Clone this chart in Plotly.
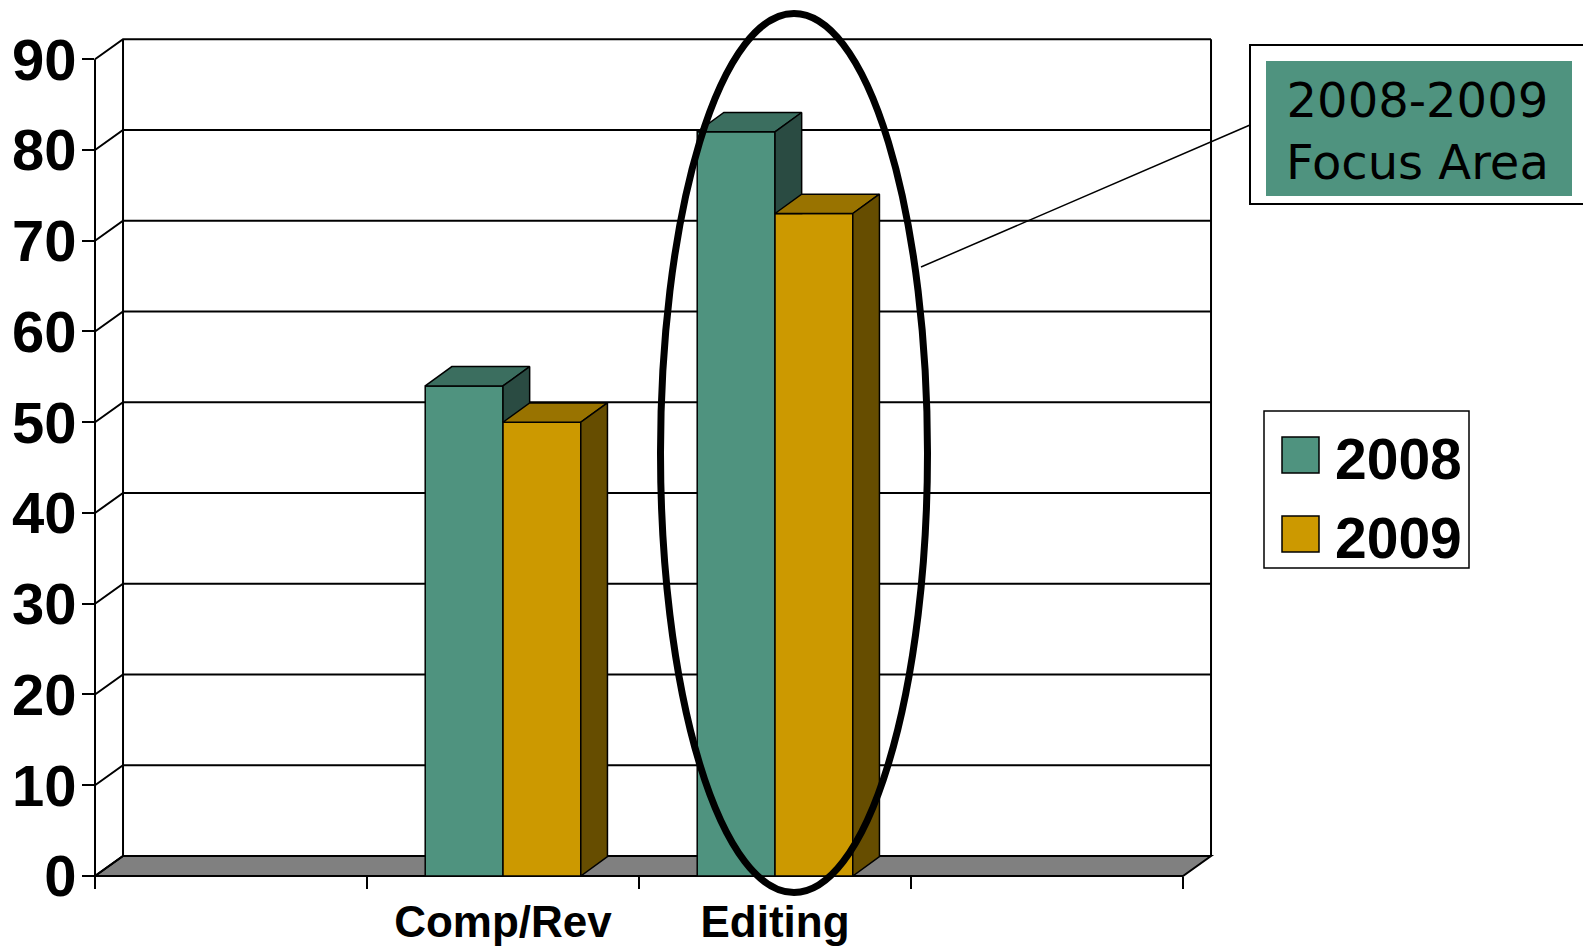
import plotly.graph_objects as go

# ---------------- data ----------------
categories = ["", "Comp/Rev", "Editing", ""]
series_names = ["2008", "2009"]
values_2008 = [None, 54, 82, None]
values_2009 = [None, 50, 73, None]
y_ticks = [0, 10, 20, 30, 40, 50, 60, 70, 80, 90]
callout_lines = ["2008-2009", "Focus Area"]

# ---------------- style ----------------
W, H = 1583, 951
ML, MR, MT, MB = 95, 332, 32, 75
XR = [-0.5, 3.75]
YR = [0, 93]
FLOOR_DX, FLOOR_DY = 0.103, 2.2
BAR_DX, BAR_DY = 0.098, 2.13
BAR_W = 0.286

front_cols = ["#4F937F", "#CC9900"]
top_cols = ["#3B6E5F", "#997300"]
side_cols = ["#2A4B42", "#664D00"]

PW = W - ML - MR
PH = H - MT - MB


def dpx(x):  # data x -> paper
    return (x - XR[0]) / (XR[1] - XR[0])


def dpy(y):  # data y -> paper
    return (y - YR[0]) / (YR[1] - YR[0])


def ppx(p):  # pixel x -> paper
    return (p - ML) / PW


def ppy(p):  # pixel y -> paper
    return (H - MB - p) / PH


def path_from(points, close=True):
    s = "M " + " L ".join(f"{dpx(x):.6f},{dpy(y):.6f}" for x, y in points)
    return s + (" Z" if close else "")


fig = go.Figure()
shapes = []

# floor
x_first = -0.5
x_last = len(categories) - 0.5
floor = [(x_first, 0), (x_last, 0), (x_last + FLOOR_DX, FLOOR_DY), (x_first + FLOOR_DX, FLOOR_DY)]
shapes.append(dict(type="path", xref="paper", yref="paper", path=path_from(floor),
                   fillcolor="#808080", line=dict(color="black", width=2), layer="below"))

# walls / gridlines
wall_line = dict(color="black", width=2)
for v in y_ticks:
    shapes.append(dict(type="path", xref="paper", yref="paper", layer="below",
                       path=path_from([(x_first, v), (x_first + FLOOR_DX, v + FLOOR_DY),
                                       (x_last + FLOOR_DX, v + FLOOR_DY)], close=False),
                       line=wall_line))
for xx in (x_first + FLOOR_DX, x_last + FLOOR_DX):
    shapes.append(dict(type="path", xref="paper", yref="paper", layer="below",
                       path=path_from([(xx, FLOOR_DY), (xx, y_ticks[-1] + FLOOR_DY)], close=False),
                       line=wall_line))
# front axis line
shapes.append(dict(type="path", xref="paper", yref="paper", layer="above",
                   path=path_from([(x_first, 0), (x_first, y_ticks[-1])], close=False),
                   line=wall_line))

# ---------------- bars (front faces) ----------------
xs = list(range(len(categories)))
all_vals = [values_2008, values_2009]
offsets = [-BAR_W, 0.0]
for k, (name, vals) in enumerate(zip(series_names, all_vals)):
    fig.add_trace(go.Bar(x=xs, y=vals, name=name, width=BAR_W, offset=offsets[k],
                         marker=dict(color=front_cols[k], line=dict(color="black", width=1.5)),
                         showlegend=False, hoverinfo="x+y+name"))

# ---------------- 3D tops & sides ----------------
for k, vals in enumerate(all_vals):
    for i, v in enumerate(vals):
        if v is None:
            continue
        x0 = i + offsets[k]
        x1 = x0 + BAR_W
        top = [(x0, v), (x1, v), (x1 + BAR_DX, v + BAR_DY), (x0 + BAR_DX, v + BAR_DY), (x0, v)]
        low = 0
        if k == 0 and values_2009[i] is not None:
            low = min(values_2009[i], v)
        if low > 0:
            side = [(x1, low), (x1, v), (x1 + BAR_DX, v + BAR_DY), (x1 + BAR_DX, low), (x1, low)]
        else:
            side = [(x1, 0), (x1, v), (x1 + BAR_DX, v + BAR_DY), (x1 + BAR_DX, BAR_DY), (x1, 0)]
        for poly, col in ((top, top_cols[k]), (side, side_cols[k])):
            fig.add_trace(go.Scatter(x=[p[0] for p in poly], y=[p[1] for p in poly],
                                     mode="lines", fill="toself", fillcolor=col,
                                     line=dict(color="black", width=1.5),
                                     showlegend=False, hoverinfo="skip"))

# ---------------- focus ellipse ----------------
shapes.append(dict(type="circle", xref="paper", yref="paper", layer="above",
                   x0=ppx(660.5), x1=ppx(927.5), y0=ppy(892.5), y1=ppy(13.5),
                   line=dict(color="black", width=7)))

# callout
shapes.append(dict(type="line", xref="paper", yref="paper", layer="above",
                   x0=ppx(921), y0=ppy(267), x1=ppx(1250), y1=ppy(125),
                   line=dict(color="black", width=1.5)))
shapes.append(dict(type="rect", xref="paper", yref="paper", layer="above",
                   x0=ppx(1250), y0=ppy(204), x1=ppx(1600), y1=ppy(45),
                   fillcolor="white", line=dict(color="black", width=2)))
shapes.append(dict(type="rect", xref="paper", yref="paper", layer="above",
                   x0=ppx(1266), y0=ppy(196), x1=ppx(1572), y1=ppy(61),
                   fillcolor=front_cols[0], line=dict(width=0)))

annotations = [dict(xref="paper", yref="paper", x=ppx(1417), y=ppy(131),
                    text="<br>".join(callout_lines), showarrow=False,
                    xanchor="center", yanchor="middle", align="center",
                    font=dict(family="DejaVu Sans", size=48, color="black"))]

# manual legend
shapes.append(dict(type="rect", xref="paper", yref="paper", layer="above",
                   x0=ppx(1264), y0=ppy(568), x1=ppx(1469), y1=ppy(411),
                   fillcolor="white", line=dict(color="black", width=1.5)))
for k, (name, yc) in enumerate(zip(series_names, (455, 534))):
    shapes.append(dict(type="rect", xref="paper", yref="paper", layer="above",
                       x0=ppx(1282), y0=ppy(yc + 18), x1=ppx(1319), y1=ppy(yc - 18),
                       fillcolor=front_cols[k], line=dict(color="black", width=1.5)))
    annotations.append(dict(xref="paper", yref="paper", x=ppx(1333), y=ppy(yc + 4),
                            text=name, showarrow=False, xanchor="left", yanchor="middle",
                            font=dict(family="Liberation Sans", size=57, color="black",
                                      weight="bold")))

fig.update_layout(
    width=W, height=H,
    margin=dict(l=ML, r=MR, t=MT, b=MB, pad=0, autoexpand=False),
    paper_bgcolor="white", plot_bgcolor="white",
    barmode="overlay",
    showlegend=False,
    shapes=shapes,
    annotations=annotations,
    xaxis=dict(range=XR, tickmode="array", tickvals=xs, ticktext=categories,
               ticks="", showgrid=False, zeroline=False, showline=False,
               automargin=False, ticklabelstandoff=16,
               tickfont=dict(family="Liberation Sans", size=44, color="black", weight="bold"),
               minor=dict(tickmode="array",
                          tickvals=[i - 0.5 for i in range(len(categories) + 1)],
                          ticks="outside", ticklen=12, tickwidth=1.5, tickcolor="black",
                          showgrid=False)),
    yaxis=dict(range=YR, tickmode="array", tickvals=y_ticks, automargin=False,
               ticks="outside", ticklen=12, tickwidth=1.5, tickcolor="black",
               showgrid=False, zeroline=False, showline=False, ticklabelstandoff=-6,
               tickfont=dict(family="Liberation Sans", size=58, color="black", weight="bold")),
)

fig.write_html("out.html")
